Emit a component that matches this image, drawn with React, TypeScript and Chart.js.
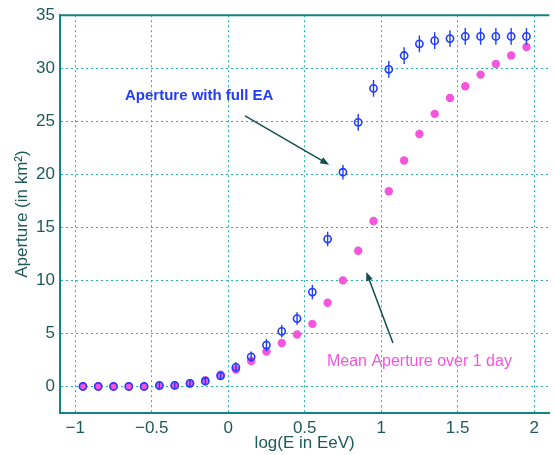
import React, { useEffect, useRef } from "react";
import { Chart, registerables } from "chart.js";

Chart.register(...registerables);

// ---- data ----
const logE = [
  -0.95, -0.85, -0.75, -0.65, -0.55, -0.45, -0.35, -0.25, -0.15, -0.05,
  0.05, 0.15, 0.25, 0.35, 0.45, 0.55, 0.65, 0.75, 0.85, 0.95,
  1.05, 1.15, 1.25, 1.35, 1.45, 1.55, 1.65, 1.75, 1.85, 1.95,
];
const apertureFullEA = [
  0.0, 0.0, 0.0, 0.0, 0.0, 0.1, 0.1, 0.3, 0.5, 1.0,
  1.8, 2.8, 3.9, 5.2, 6.4, 8.9, 13.9, 20.2, 24.9, 28.1,
  29.9, 31.2, 32.3, 32.6, 32.8, 33.0, 33.0, 33.0, 33.0, 33.0,
];
const apertureFullEAErr = [
  0.0, 0.0, 0.0, 0.0, 0.0, 0.1, 0.1, 0.1, 0.2, 0.2,
  0.3, 0.3, 0.4, 0.4, 0.4, 0.5, 0.5, 0.5, 0.6, 0.6,
  0.6, 0.6, 0.6, 0.6, 0.6, 0.6, 0.6, 0.6, 0.6, 0.6,
];
const apertureMeanDay = [
  0.0, 0.0, 0.0, 0.0, 0.0, 0.05, 0.1, 0.3, 0.6, 1.1,
  1.6, 2.4, 3.3, 4.1, 4.9, 5.9, 7.9, 10.0, 12.8, 15.6,
  18.4, 21.3, 23.8, 25.7, 27.2, 28.3, 29.4, 30.4, 31.2, 32.0,
];
const xTickValues = [-1, -0.5, 0, 0.5, 1, 1.5, 2];
const yTickValues = [0, 5, 10, 15, 20, 25, 30, 35];

const labelFullEA = "Aperture with full EA";
const labelMeanDay = "Mean Aperture over 1 day";
const xTitle = "log(E in EeV)";
const yTitle = "Aperture (in km\u00B2)";

// annotation anchors (data coordinates)
const fullEAText = { x: -0.19, y: 27.4 };
const fullEAArrow = { x0: 0.11, y0: 25.5, x1: 0.66, y1: 20.9 };
const meanText = { x: 1.25, y: 2.3 };
const meanArrow = { x0: 1.077, y0: 4.1, x1: 0.903, y1: 10.8 };

const X_MIN = -1.1;
const X_MAX = 2.1;
const Y_MIN = -2.5;
const Y_MAX = 35;

const BLUE = "#1f3cff";
const PINK = "#f455dc";
const AXIS = "#138585";
const GRID = "#22b4b4";
const TICK_TXT = "#1e5a5a";
const ARROW = "#164e4e";
const FONT = "'Liberation Sans', Arial, Helvetica, sans-serif";

function drawArrow(ctx: CanvasRenderingContext2D, x0: number, y0: number, x1: number, y1: number) {
  const ang = Math.atan2(y1 - y0, x1 - x0);
  const len = 9;
  const w = 3.5;
  ctx.beginPath();
  ctx.moveTo(x0, y0);
  ctx.lineTo(x1 - Math.cos(ang) * len * 0.8, y1 - Math.sin(ang) * len * 0.8);
  ctx.stroke();
  ctx.beginPath();
  ctx.moveTo(x1, y1);
  ctx.lineTo(
    x1 - Math.cos(ang) * len + Math.sin(ang) * w,
    y1 - Math.sin(ang) * len - Math.cos(ang) * w
  );
  ctx.lineTo(
    x1 - Math.cos(ang) * len - Math.sin(ang) * w,
    y1 - Math.sin(ang) * len + Math.cos(ang) * w
  );
  ctx.closePath();
  ctx.fill();
}

const overlayPlugin = {
  id: "overlay",
  afterDatasetsDraw(chart: any) {
    const { ctx, chartArea } = chart;
    const xs = chart.scales.x;
    const ys = chart.scales.y;
    ctx.save();
    // error bars on full-EA points
    ctx.strokeStyle = BLUE;
    ctx.lineWidth = 1.4;
    for (let i = 0; i < logE.length; i++) {
      const e = apertureFullEAErr[i];
      if (e <= 0) continue;
      const px = xs.getPixelForValue(logE[i]);
      const pTop = ys.getPixelForValue(apertureFullEA[i] + e) - 2;
      const pBot = ys.getPixelForValue(apertureFullEA[i] - e) + 2;
      ctx.beginPath();
      ctx.moveTo(px, pTop);
      ctx.lineTo(px, pBot);
      ctx.stroke();
    }
    // top frame line
    ctx.strokeStyle = AXIS;
    ctx.lineWidth = 2;
    ctx.beginPath();
    ctx.moveTo(chartArea.left, chartArea.top);
    ctx.lineTo(chartArea.right, chartArea.top);
    ctx.stroke();
    // arrows
    ctx.strokeStyle = ARROW;
    ctx.fillStyle = ARROW;
    ctx.lineWidth = 1.5;
    drawArrow(
      ctx,
      xs.getPixelForValue(fullEAArrow.x0),
      ys.getPixelForValue(fullEAArrow.y0),
      xs.getPixelForValue(fullEAArrow.x1),
      ys.getPixelForValue(fullEAArrow.y1)
    );
    drawArrow(
      ctx,
      xs.getPixelForValue(meanArrow.x0),
      ys.getPixelForValue(meanArrow.y0),
      xs.getPixelForValue(meanArrow.x1),
      ys.getPixelForValue(meanArrow.y1)
    );
    // texts
    ctx.textAlign = "center";
    ctx.textBaseline = "middle";
    ctx.fillStyle = BLUE;
    ctx.font = `bold 15px ${FONT}`;
    ctx.fillText(labelFullEA, xs.getPixelForValue(fullEAText.x), ys.getPixelForValue(fullEAText.y));
    ctx.fillStyle = PINK;
    ctx.font = `16px ${FONT}`;
    ctx.fillText(labelMeanDay, xs.getPixelForValue(meanText.x), ys.getPixelForValue(meanText.y));
    ctx.restore();
  },
};

const fmt = (v: number) => String(v).replace("-", "\u2212");

export default function App() {
  const ref = useRef<HTMLCanvasElement | null>(null);
  useEffect(() => {
    if (!ref.current) return;
    const chart = new Chart(ref.current, {
      type: "scatter",
      data: {
        datasets: [
          {
            label: labelFullEA,
            data: logE.map((x, i) => ({ x, y: apertureFullEA[i] })),
            pointRadius: 3.6,
            pointBorderWidth: 1.6,
            pointBorderColor: BLUE,
            pointBackgroundColor: "rgba(0,0,0,0)",
            showLine: false,
          },
          {
            label: labelMeanDay,
            data: logE.map((x, i) => ({ x, y: apertureMeanDay[i] })),
            pointRadius: 4.2,
            pointBorderWidth: 0,
            pointBackgroundColor: PINK,
            pointBorderColor: PINK,
            showLine: false,
          },
        ],
      },
      options: {
        animation: false,
        responsive: false,
        maintainAspectRatio: false,
        layout: { padding: { top: 13, right: 0, left: 0, bottom: 0 } },
        plugins: {
          legend: { display: false },
          tooltip: { enabled: false },
        },
        scales: {
          x: {
            type: "linear",
            min: X_MIN,
            max: X_MAX,
            afterBuildTicks: (axis: any) => {
              axis.ticks = xTickValues.map((v) => ({ value: v }));
            },
            afterFit: (s: any) => {
              s.height = 42;
            },
            grid: { color: GRID, lineWidth: 1, drawTicks: false },
            border: { display: true, color: AXIS, width: 2, dash: [2, 3] },
            ticks: {
              color: TICK_TXT,
              font: { family: FONT, size: 17 },
              padding: 5,
              maxRotation: 0,
              autoSkip: false,
              callback: (v: any) => fmt(v),
            },
            title: {
              display: true,
              text: xTitle,
              color: TICK_TXT,
              font: { family: FONT, size: 17 },
              padding: { top: 0, bottom: 1 },
            },
          },
          y: {
            type: "linear",
            min: Y_MIN,
            max: Y_MAX,
            afterBuildTicks: (axis: any) => {
              axis.ticks = yTickValues.map((v) => ({ value: v }));
            },
            afterFit: (s: any) => {
              s.width = 60;
            },
            grid: { color: GRID, lineWidth: 1, drawTicks: false },
            border: { display: true, color: AXIS, width: 2, dash: [2, 3] },
            ticks: {
              color: TICK_TXT,
              font: { family: FONT, size: 17 },
              padding: 5,
              autoSkip: false,
              callback: (v: any) => fmt(v),
            },
            title: {
              display: true,
              text: yTitle,
              color: TICK_TXT,
              font: { family: FONT, size: 17 },
              padding: { top: 12, bottom: 0 },
            },
          },
        },
      },
      plugins: [overlayPlugin],
    } as any);
    return () => chart.destroy();
  }, []);
  return (
    <div style={{ position: "fixed", left: 0, top: 0, width: 555, height: 455, background: "#fff" }}>
      <canvas ref={ref} width={555} height={455} style={{ width: 555, height: 455, display: "block" }} />
    </div>
  );
}
